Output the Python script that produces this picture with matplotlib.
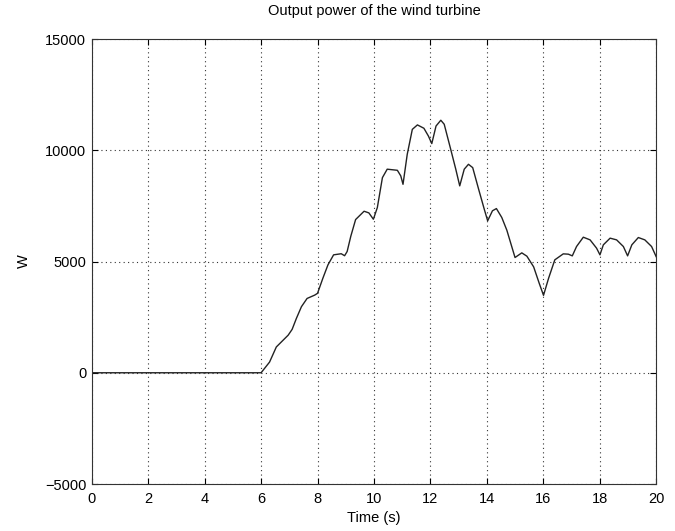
import matplotlib
matplotlib.use('Agg')
import matplotlib.pyplot as plt

# Output power readings (time in s, power in W)
time_s = [0, 6.0, 6.3, 6.54, 6.96, 7.1, 7.25, 7.43, 7.63, 7.9, 8.0, 8.19, 8.37,
          8.57, 8.84, 8.96, 9.05, 9.18, 9.35, 9.65, 9.82, 9.98, 10.12, 10.3,
          10.47, 10.83, 10.95, 11.03, 11.18, 11.36, 11.54, 11.77, 11.93, 12.05,
          12.2, 12.37, 12.49, 12.72, 12.9, 13.04, 13.2, 13.35, 13.5, 13.71,
          13.91, 14.03, 14.2, 14.34, 14.53, 14.71, 15.0, 15.24, 15.42, 15.66,
          15.86, 16.01, 16.19, 16.41, 16.71, 16.89, 17.03, 17.18, 17.42, 17.66,
          17.89, 18.01, 18.13, 18.37, 18.6, 18.84, 18.99, 19.14, 19.37, 19.6,
          19.84, 20.0]
power_w = [0, 0, 480, 1160, 1690, 1950, 2440, 2970, 3340, 3490, 3570, 4250, 4850,
           5300, 5350, 5260, 5450, 6138, 6886, 7260, 7185, 6900, 7425, 8770,
           9150, 9100, 8850, 8470, 9820, 10940, 11140, 10990, 10640, 10300,
           11090, 11350, 11170, 10045, 9150, 8400, 9150, 9370, 9220, 8250,
           7350, 6830, 7280, 7380, 6980, 6407, 5180, 5389, 5240, 4760,
           4012, 3480, 4250, 5075, 5344, 5330, 5254, 5674, 6093, 5973,
           5600, 5300, 5750, 6050, 5973, 5674, 5254, 5750, 6078, 5973,
           5674, 5225]

x_ticks = list(range(0, 21, 2))
y_ticks = [-5000, 0, 5000, 10000, 15000]

plt.rcParams['font.family'] = ['Liberation Sans', 'DejaVu Sans']
plt.rcParams['font.size'] = 10.5

fig = plt.figure(figsize=(6.75, 5.31), dpi=100)
ax = fig.add_axes([0.136, 0.0885, 0.836, 0.838])

ax.plot(time_s, power_w, color='#222222', linewidth=1.0)

ax.set_xlim(0, 20)
ax.set_ylim(-5000, 15000)
ax.set_xticks(x_ticks)
ax.set_yticks(y_ticks)
ax.grid(True, linestyle=(0, (1, 3)), color='#333333', linewidth=0.8)
ax.tick_params(direction='in', top=True, right=True, length=4)
ax.tick_params(axis='x', pad=6)
ax.tick_params(axis='y', pad=4)
for s in ax.spines.values():
    s.set_color('#333333')

ax.set_title('Output power of the wind turbine', fontsize=10.5, pad=17)
ax.set_xlabel('Time (s)', labelpad=3)
ax.set_ylabel('W', labelpad=10)

plt.savefig('out.png', dpi=100)
